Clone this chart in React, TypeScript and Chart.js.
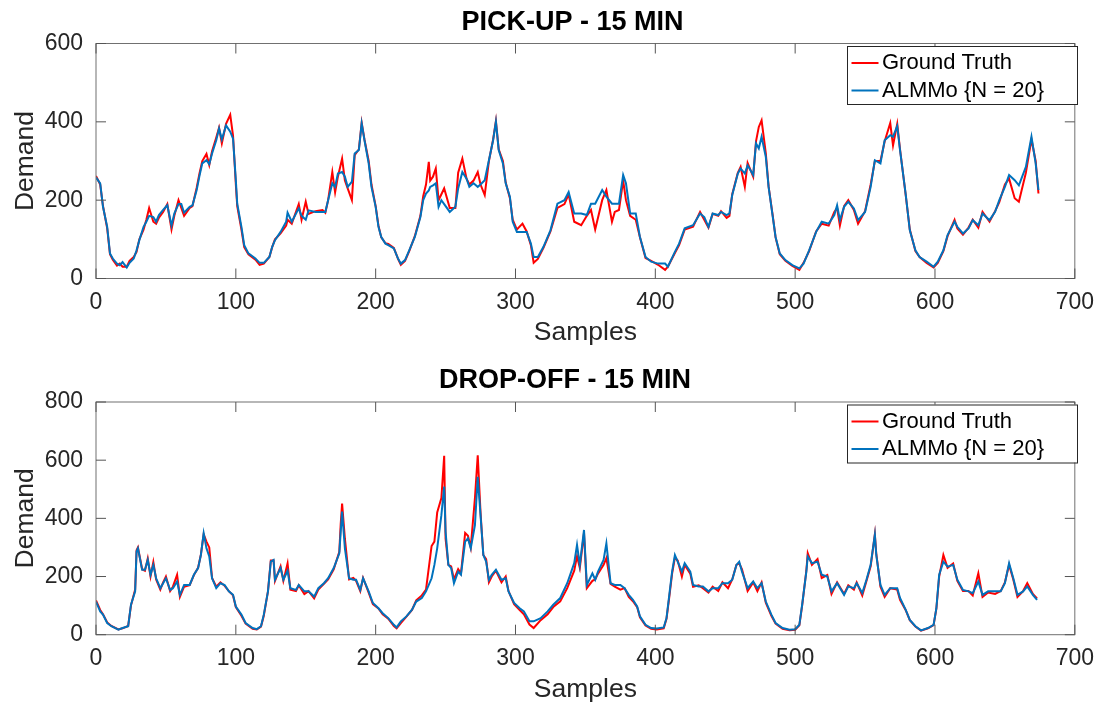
import React, { useEffect, useRef } from 'react';
import { Chart, registerables } from 'chart.js';

Chart.register(...registerables);

// ---------------- DATA ----------------
const PU_SAMPLES = [
  0, 3, 5, 8, 10, 12, 15, 17,
  19, 22, 24, 27, 29, 31, 34, 36,
  38, 41, 43, 45, 48, 51, 54, 56,
  59, 61, 63, 67, 69, 72, 74, 76,
  79, 81, 83, 86, 88, 90, 93, 96,
  98, 100, 101, 104, 106, 109, 114, 117,
  120, 124, 126, 128, 132, 136, 137, 140,
  145, 147, 150, 152, 157, 162, 164, 166,
  169, 171, 173, 176, 178, 180, 183, 185,
  188, 190, 192, 195, 197, 200, 202, 204,
  207, 209, 213, 216, 218, 221, 224, 228,
  232, 234, 236, 238, 239, 241, 243, 245,
  247, 249, 253, 257, 259, 262, 265, 267,
  270, 273, 275, 278, 281, 284, 286, 288,
  291, 293, 296, 298, 301, 305, 308, 311,
  313, 316, 320, 325, 330, 335, 338, 342,
  347, 351, 354, 357, 362, 365, 369, 371,
  374, 377, 379, 382, 386, 389, 393, 397,
  402, 407, 409, 414, 417, 421, 427, 432,
  435, 438, 441, 445, 447, 451, 453, 455,
  459, 461, 464, 466, 470, 472, 474, 476,
  479, 481, 484, 486, 489, 493, 498, 503,
  506, 510, 515, 519, 524, 528, 530, 532,
  535, 538, 542, 545, 550, 554, 557, 561,
  564, 568, 570, 573, 575, 579, 582, 586,
  589, 594, 599, 602, 606, 609, 614, 616,
  620, 624, 627, 631, 634, 639, 643, 646,
  650, 653, 657, 660, 665, 669, 672, 674,
];
const PU_TRUTH = [
  262, 240, 185, 128, 62, 48, 33, 38,
  30, 30, 45, 55, 68, 100, 125, 150,
  180, 145, 140, 155, 170, 190, 125, 160,
  200, 180, 160, 180, 185, 232, 268, 300,
  318, 290, 325, 360, 385, 345, 395, 418,
  365, 240, 185, 125, 80, 62, 48, 35,
  38, 55, 80, 100, 115, 135, 150, 140,
  190, 150, 196, 165, 172, 175, 168, 200,
  272, 220, 260, 306, 250, 230, 200, 315,
  330, 398, 355, 300, 240, 185, 135, 105,
  90, 88, 78, 50, 35, 45, 70, 108,
  160, 210, 240, 298, 250, 260, 281, 200,
  215, 230, 180, 180, 270, 306, 255, 240,
  250, 272, 240, 213, 300, 355, 402, 330,
  300, 245, 205, 150, 125, 140, 120, 85,
  40, 50, 78, 120, 180, 190, 215, 145,
  136, 160, 175, 125, 200, 226, 145, 170,
  175, 250, 200, 160, 150, 105, 52, 45,
  35, 22, 30, 65, 85, 125, 132, 170,
  150, 130, 165, 160, 172, 155, 160, 215,
  270, 285, 234, 295, 260, 350, 387, 404,
  320, 235, 160, 105, 62, 45, 32, 22,
  40, 70, 120, 140, 135, 170, 180, 135,
  185, 200, 175, 140, 172, 240, 300, 300,
  350, 397, 340, 395, 330, 215, 125, 70,
  55, 40, 28, 40, 70, 108, 150, 128,
  112, 130, 150, 130, 170, 145, 172, 195,
  240, 255, 205, 196, 270, 355, 300, 217,
];
const PU_ALMMO = [
  258, 243, 183, 132, 64, 51, 38, 34,
  42, 28, 40, 51, 72, 98, 132, 145,
  160, 157, 145, 162, 175, 187, 135, 166,
  190, 190, 168, 183, 187, 226, 262, 294,
  302, 292, 319, 353, 383, 355, 391, 375,
  357, 251, 191, 132, 85, 64, 51, 40,
  40, 55, 81, 98, 119, 145, 168, 145,
  179, 160, 150, 174, 170, 170, 170, 200,
  243, 234, 268, 272, 260, 234, 247, 319,
  328, 396, 353, 294, 234, 183, 132, 106,
  89, 85, 77, 51, 38, 47, 72, 106,
  157, 200, 217, 225, 234, 238, 243, 183,
  200, 190, 170, 183, 230, 272, 255, 234,
  243, 234, 240, 251, 302, 353, 400, 328,
  294, 243, 209, 145, 119, 119, 119, 89,
  55, 55, 81, 123, 191, 200, 221, 166,
  166, 162, 191, 191, 226, 209, 191, 191,
  191, 264, 243, 166, 166, 106, 55, 43,
  38, 38, 30, 68, 89, 128, 136, 166,
  157, 132, 166, 162, 170, 162, 166, 213,
  268, 281, 268, 289, 264, 345, 332, 362,
  311, 234, 157, 106, 64, 47, 34, 26,
  38, 72, 119, 145, 140, 162, 187, 149,
  183, 196, 179, 149, 170, 234, 302, 294,
  353, 366, 362, 389, 328, 217, 123, 72,
  55, 43, 30, 43, 72, 111, 145, 132,
  115, 128, 149, 136, 166, 149, 170, 200,
  234, 264, 251, 238, 285, 362, 294, 226,
];

const DO_SAMPLES = [
  0, 3, 5, 8, 11, 16, 19, 23,
  25, 28, 29, 30, 33, 35, 37, 39,
  41, 43, 46, 48, 50, 53, 55, 58,
  60, 63, 67, 70, 73, 75, 77, 79,
  81, 83, 86, 89, 92, 95, 98, 100,
  104, 107, 112, 115, 118, 120, 123, 125,
  127, 128, 132, 134, 137, 139, 143, 145,
  149, 152, 156, 159, 163, 166, 170, 174,
  175, 176, 178, 181, 184, 186, 189, 191,
  195, 198, 202, 205, 209, 213, 215, 218,
  222, 226, 229, 233, 236, 240, 242, 244,
  247, 249, 250, 252, 254, 256, 259, 261,
  264, 266, 268, 271, 273, 275, 277, 279,
  281, 283, 286, 290, 293, 295, 299, 303,
  306, 310, 313, 318, 323, 327, 332, 337,
  342, 344, 346, 349, 351, 355, 357, 359,
  363, 365, 368, 371, 375, 378, 381, 384,
  387, 389, 393, 397, 401, 406, 408, 410,
  412, 414, 416, 419, 421, 425, 427, 431,
  434, 438, 441, 445, 448, 452, 455, 458,
  460, 462, 466, 470, 473, 476, 479, 483,
  486, 491, 496, 500, 503, 505, 508, 509,
  512, 516, 519, 523, 526, 530, 535, 538,
  542, 544, 548, 551, 554, 557, 558, 561,
  564, 568, 573, 575, 579, 582, 586, 590,
  595, 599, 601, 603, 606, 609, 613, 616,
  620, 624, 627, 631, 634, 638, 643, 647,
  650, 653, 656, 659, 663, 666, 670, 673,
];
const DO_TRUTH = [
  118, 85, 70, 42, 30, 18, 22, 30,
  100, 155, 290, 300, 225, 220, 262, 200,
  250, 190, 155, 180, 200, 150, 165, 206,
  130, 165, 170, 205, 230, 275, 345, 320,
  300, 195, 165, 180, 168, 150, 135, 95,
  65, 38, 20, 18, 28, 65, 150, 255,
  255, 185, 235, 185, 245, 155, 150, 170,
  140, 150, 125, 155, 175, 190, 225, 285,
  380, 451, 330, 190, 195, 185, 150, 195,
  145, 105, 90, 70, 55, 30, 22, 40,
  62, 85, 118, 135, 155, 305, 320, 420,
  470, 615, 330, 240, 235, 190, 225, 210,
  350, 340, 300, 470, 617, 420, 274, 260,
  180, 200, 220, 180, 200, 150, 105, 85,
  70, 35, 23, 50, 70, 95, 115, 160,
  220, 270, 230, 350, 160, 185, 190, 210,
  240, 263, 175, 165, 155, 160, 130, 115,
  95, 60, 32, 20, 18, 22, 55, 130,
  210, 265, 255, 200, 240, 210, 165, 170,
  160, 145, 165, 150, 180, 160, 190, 240,
  245, 225, 150, 180, 150, 180, 110, 65,
  38, 20, 15, 17, 32, 100, 220, 280,
  240, 260, 195, 205, 140, 180, 140, 170,
  155, 180, 135, 185, 235, 345, 280, 165,
  130, 160, 155, 120, 85, 50, 28, 14,
  22, 33, 90, 200, 274, 230, 245, 185,
  150, 150, 135, 211, 130, 145, 140, 150,
  180, 240, 190, 130, 150, 177, 140, 125,
];
const DO_ALMMO = [
  114, 80, 69, 40, 29, 17, 23, 29,
  103, 149, 286, 297, 223, 223, 257, 206,
  240, 194, 160, 177, 194, 154, 160, 183,
  137, 171, 171, 206, 229, 274, 349, 297,
  269, 194, 160, 177, 171, 149, 137, 97,
  69, 40, 23, 19, 29, 69, 149, 251,
  257, 189, 229, 189, 220, 160, 154, 171,
  149, 149, 131, 160, 177, 194, 229, 280,
  354, 423, 297, 194, 189, 189, 154, 194,
  149, 109, 91, 74, 57, 34, 25, 46,
  63, 86, 114, 126, 149, 194, 240, 297,
  411, 509, 354, 240, 229, 177, 217, 206,
  320, 331, 297, 377, 543, 411, 274, 251,
  189, 206, 223, 189, 194, 149, 109, 91,
  80, 46, 46, 57, 80, 103, 126, 177,
  246, 309, 240, 360, 171, 211, 189, 217,
  257, 314, 177, 171, 171, 160, 137, 120,
  97, 63, 34, 23, 21, 25, 57, 137,
  217, 274, 251, 217, 246, 217, 171, 166,
  166, 149, 160, 160, 177, 177, 189, 240,
  251, 217, 160, 183, 160, 177, 114, 69,
  40, 23, 17, 19, 34, 103, 217, 269,
  246, 251, 206, 200, 149, 177, 137, 166,
  160, 177, 143, 189, 240, 343, 274, 171,
  137, 160, 160, 126, 86, 51, 29, 15,
  23, 34, 91, 206, 251, 234, 240, 189,
  154, 149, 143, 183, 137, 149, 149, 149,
  177, 246, 194, 137, 149, 166, 137, 120,
];

const X_MAX = 700;
const X_STEP = 100;
const PU_Y_MAX = 600;
const DO_Y_MAX = 800;
const Y_STEP = 200;
const SERIES_LABELS = ['Ground Truth', 'ALMMo {N = 20}'];
const SERIES_COLORS = ['#FF0000', '#0072BD'];

// ---------------- STYLE ----------------
const FONT = "'Liberation Sans', Arial, Helvetica, sans-serif";
const TEXT = '#262626';
const W = 1104;

type PanelProps = {
  top: number;
  height: number;
  title: string;
  samples: number[];
  truth: number[];
  almmo: number[];
  yMax: number;
  areaTop: number;
  areaBottom: number;
  titleX: number;
  titleCenter: number;
  xTitleCenter: number;
};

const PLOT_LEFT = 96;
const PLOT_RIGHT = 1081;

function Panel(p: PanelProps) {
  const ref = useRef<HTMLCanvasElement | null>(null);

  useEffect(() => {
    if (!ref.current) return;
    const titleSize = 27;
    const tickSize = 23;
    const labelSize = 26.5;
    const labelLH = labelSize * 1.2;
    const xAxisH = p.height - p.areaBottom;

    const framePlugin = {
      id: 'matlabFrame',
      afterDatasetsDraw(chart: any) {
        const { ctx, chartArea: a, scales } = chart;
        ctx.save();
        ctx.strokeStyle = '#707070';
        ctx.lineWidth = 1;
        ctx.strokeRect(a.left, a.top, a.right - a.left, a.bottom - a.top);
        ctx.strokeStyle = '#555555';
        const tl = 10;
        scales.x.ticks.forEach((t: any) => {
          const px = scales.x.getPixelForValue(t.value);
          ctx.beginPath();
          ctx.moveTo(px, a.bottom);
          ctx.lineTo(px, a.bottom - tl);
          ctx.moveTo(px, a.top);
          ctx.lineTo(px, a.top + tl);
          ctx.stroke();
        });
        scales.y.ticks.forEach((t: any) => {
          const py = scales.y.getPixelForValue(t.value);
          ctx.beginPath();
          ctx.moveTo(a.left, py);
          ctx.lineTo(a.left + tl, py);
          ctx.moveTo(a.right, py);
          ctx.lineTo(a.right - tl, py);
          ctx.stroke();
        });
        ctx.restore();
      },
      afterDraw(chart: any) {
        const { ctx, chartArea: a } = chart;
        ctx.save();
        // title
        ctx.fillStyle = '#000000';
        ctx.font = `bold ${titleSize}px ${FONT}`;
        ctx.textAlign = 'center';
        ctx.textBaseline = 'middle';
        ctx.fillText(p.title, p.titleX, p.titleCenter);
        // legend
        const bx = 847;
        const by = a.top + 2.5;
        const bw = 230;
        const bh = 58;
        ctx.fillStyle = '#ffffff';
        ctx.fillRect(bx, by, bw, bh);
        ctx.strokeStyle = TEXT;
        ctx.lineWidth = 1;
        ctx.strokeRect(bx + 0.5, by + 0.5, bw, bh);
        const rows = [a.top + 19.5, a.top + 47];
        chart.data.datasets.forEach((ds: any, i: number) => {
          const y = rows[i];
          ctx.strokeStyle = ds.borderColor;
          ctx.lineWidth = 2;
          ctx.beginPath();
          ctx.moveTo(851.5, y);
          ctx.lineTo(878.5, y);
          ctx.stroke();
          ctx.fillStyle = '#000000';
          ctx.font = `22px ${FONT}`;
          ctx.textBaseline = 'middle';
          ctx.textAlign = 'left';
          ctx.fillText(ds.label, 882, y);
        });
        ctx.restore();
      },
    };

    const chart = new Chart(ref.current, {
      type: 'line',
      data: {
        datasets: [
          {
            label: SERIES_LABELS[0],
            data: p.samples.map((x, i) => ({ x, y: p.truth[i] })),
            borderColor: SERIES_COLORS[0],
            backgroundColor: SERIES_COLORS[0],
            borderWidth: 2,
            pointRadius: 0,
            tension: 0,
            order: 2,
          },
          {
            label: SERIES_LABELS[1],
            data: p.samples.map((x, i) => ({ x, y: p.almmo[i] })),
            borderColor: SERIES_COLORS[1],
            backgroundColor: SERIES_COLORS[1],
            borderWidth: 2,
            pointRadius: 0,
            tension: 0,
            order: 1,
          },
        ],
      },
      options: {
        animation: false,
        responsive: false,
        maintainAspectRatio: false,
        events: [],
        layout: { padding: { left: 0, right: W - PLOT_RIGHT, top: p.areaTop, bottom: 0 } },
        plugins: {
          legend: { display: false },
          tooltip: { enabled: false },
          title: { display: false },
        },
        scales: {
          x: {
            type: 'linear',
            min: 0,
            max: X_MAX,
            grid: { display: false, drawTicks: false },
            border: { display: false },
            ticks: {
              stepSize: X_STEP,
              color: TEXT,
              font: { family: FONT, size: tickSize, lineHeight: 1.2 },
              padding: 10,
              maxRotation: 0,
              autoSkip: false,
            },
            title: {
              display: true,
              text: 'Samples',
              color: TEXT,
              font: { family: FONT, size: labelSize, lineHeight: 1.2 },
              padding: { top: 0, bottom: p.height - p.xTitleCenter - labelLH / 2 },
            },
            afterFit: (s: any) => {
              s.height = xAxisH;
            },
          },
          y: {
            type: 'linear',
            min: 0,
            max: p.yMax,
            grid: { display: false, drawTicks: false },
            border: { display: false },
            ticks: {
              stepSize: Y_STEP,
              color: TEXT,
              font: { family: FONT, size: tickSize, lineHeight: 1.2 },
              padding: 13,
            },
            title: {
              display: true,
              text: 'Demand',
              color: TEXT,
              font: { family: FONT, size: labelSize, lineHeight: 1.2 },
              padding: { top: 10, bottom: 0 },
            },
            afterFit: (s: any) => {
              s.width = PLOT_LEFT;
            },
          },
        },
      },
      plugins: [framePlugin],
    } as any);
    return () => chart.destroy();
  }, []);

  return (
    <canvas
      ref={ref}
      width={W}
      height={p.height}
      style={{ position: 'absolute', left: 0, top: p.top, width: W, height: p.height, display: 'block' }}
    />
  );
}

export default function App() {
  return (
    <div style={{ position: 'absolute', left: 0, top: 0, width: W, height: 706, background: '#ffffff', overflow: 'hidden' }}>
      <Panel
        top={0}
        height={353}
        title="PICK-UP - 15 MIN"
        samples={PU_SAMPLES}
        truth={PU_TRUTH}
        almmo={PU_ALMMO}
        yMax={PU_Y_MAX}
        areaTop={43.5}
        areaBottom={278.5}
        titleX={572.5}
        titleCenter={22.2}
        xTitleCenter={333}
      />
      <Panel
        top={353}
        height={353}
        title="DROP-OFF - 15 MIN"
        samples={DO_SAMPLES}
        truth={DO_TRUTH}
        almmo={DO_ALMMO}
        yMax={DO_Y_MAX}
        areaTop={49}
        areaBottom={281.7}
        titleX={565}
        titleCenter={27.7}
        xTitleCenter={337}
      />
    </div>
  );
}
